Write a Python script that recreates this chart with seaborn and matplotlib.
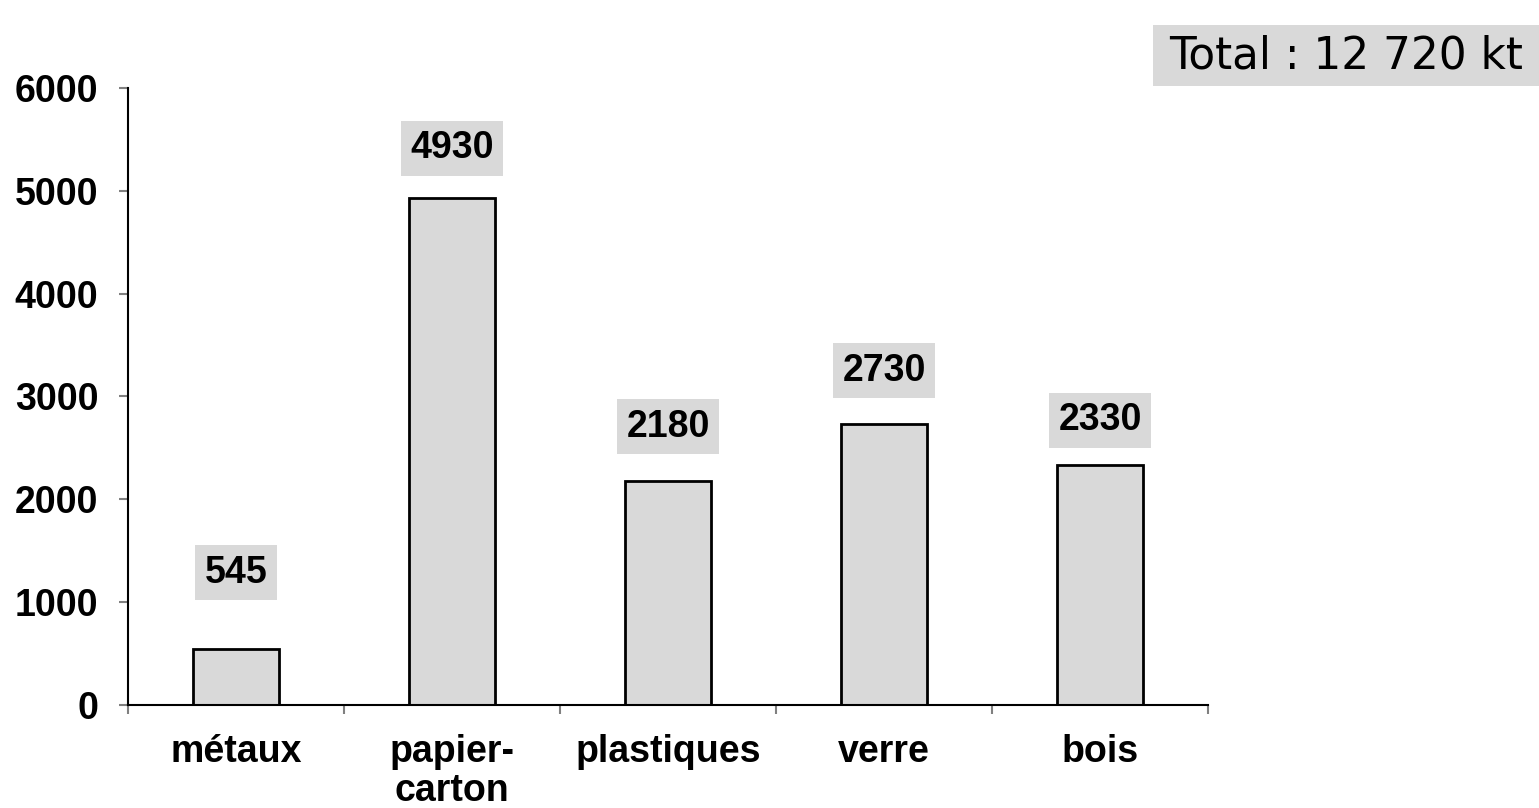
import matplotlib
matplotlib.use("Agg")
import matplotlib.pyplot as plt
import seaborn as sns
import pandas as pd
import numpy as np

# Tonnages of packaging by material (kt)
categories = ["métaux", "papier-\ncarton", "plastiques", "verre", "bois"]
values = [545, 4930, 2180, 2730, 2330]
# Heights at which the value tags sit
label_heights = [1285, 5415, 2705, 3250, 2770]
y_ticks = [0, 1000, 2000, 3000, 4000, 5000, 6000]
total_text = "Total : 12 720 kt"

sns.set_theme(style="white")
plt.rcParams["font.family"] = ["Liberation Sans", "DejaVu Sans"]
plt.rcParams["text.color"] = "black"
plt.rcParams["xtick.color"] = "black"
plt.rcParams["ytick.color"] = "black"

fig = plt.figure(figsize=(15.39, 8.08), dpi=100)
ax = fig.add_axes([0.0832, 0.1275, 0.7017, 0.7636])

df = pd.DataFrame({"categorie": categories, "kt": values})
sns.barplot(data=df, x="categorie", y="kt", color="#D9D9D9", saturation=1,
            edgecolor="black", linewidth=2, width=0.4, ax=ax)

ax.set_xlim(-0.5, len(categories) - 0.5)
ax.set_ylim(0, 6000)
ax.set_yticks(y_ticks)
ax.set_yticklabels([str(t) for t in y_ticks], fontsize=27, fontweight="bold",
                   color="black")
ax.set_xticks(range(len(categories)))
ax.set_xticklabels(categories, fontsize=27, fontweight="bold", linespacing=1.1,
                   color="black")
ax.set_xlabel("")
ax.set_ylabel("")

# category separators as minor ticks below the axis
ax.set_xticks(np.arange(-0.5, len(categories)), minor=True)
ax.tick_params(axis="x", which="major", length=0, pad=21)
ax.tick_params(axis="x", which="minor", length=6.5, width=1.5, color="#808080",
               direction="out", bottom=True)
ax.tick_params(axis="y", which="major", length=6.5, width=1.5, color="#808080",
               labelcolor="black", direction="out", left=True, pad=15)

for side in ["top", "right"]:
    ax.spines[side].set_visible(False)
for side in ["left", "bottom"]:
    ax.spines[side].set_color("black")
    ax.spines[side].set_linewidth(1.5)

for i, (v, h) in enumerate(zip(values, label_heights)):
    ax.text(i, h, str(v), ha="center", va="center", fontsize=27,
            fontweight="bold", color="black",
            bbox=dict(boxstyle="square,pad=0.25", facecolor="#D9D9D9",
                      edgecolor="none"))

fig.patches.append(plt.Rectangle((1153 / 1539, 1 - 86 / 808), 386 / 1539,
                                 61 / 808, transform=fig.transFigure,
                                 facecolor="#D9D9D9", edgecolor="none"))
fig.text(1346 / 1539, 1 - 56 / 808, total_text, ha="center", va="center",
         fontsize=31.5, color="black", family=["DejaVu Sans"])

fig.savefig("out.png", dpi=100)
